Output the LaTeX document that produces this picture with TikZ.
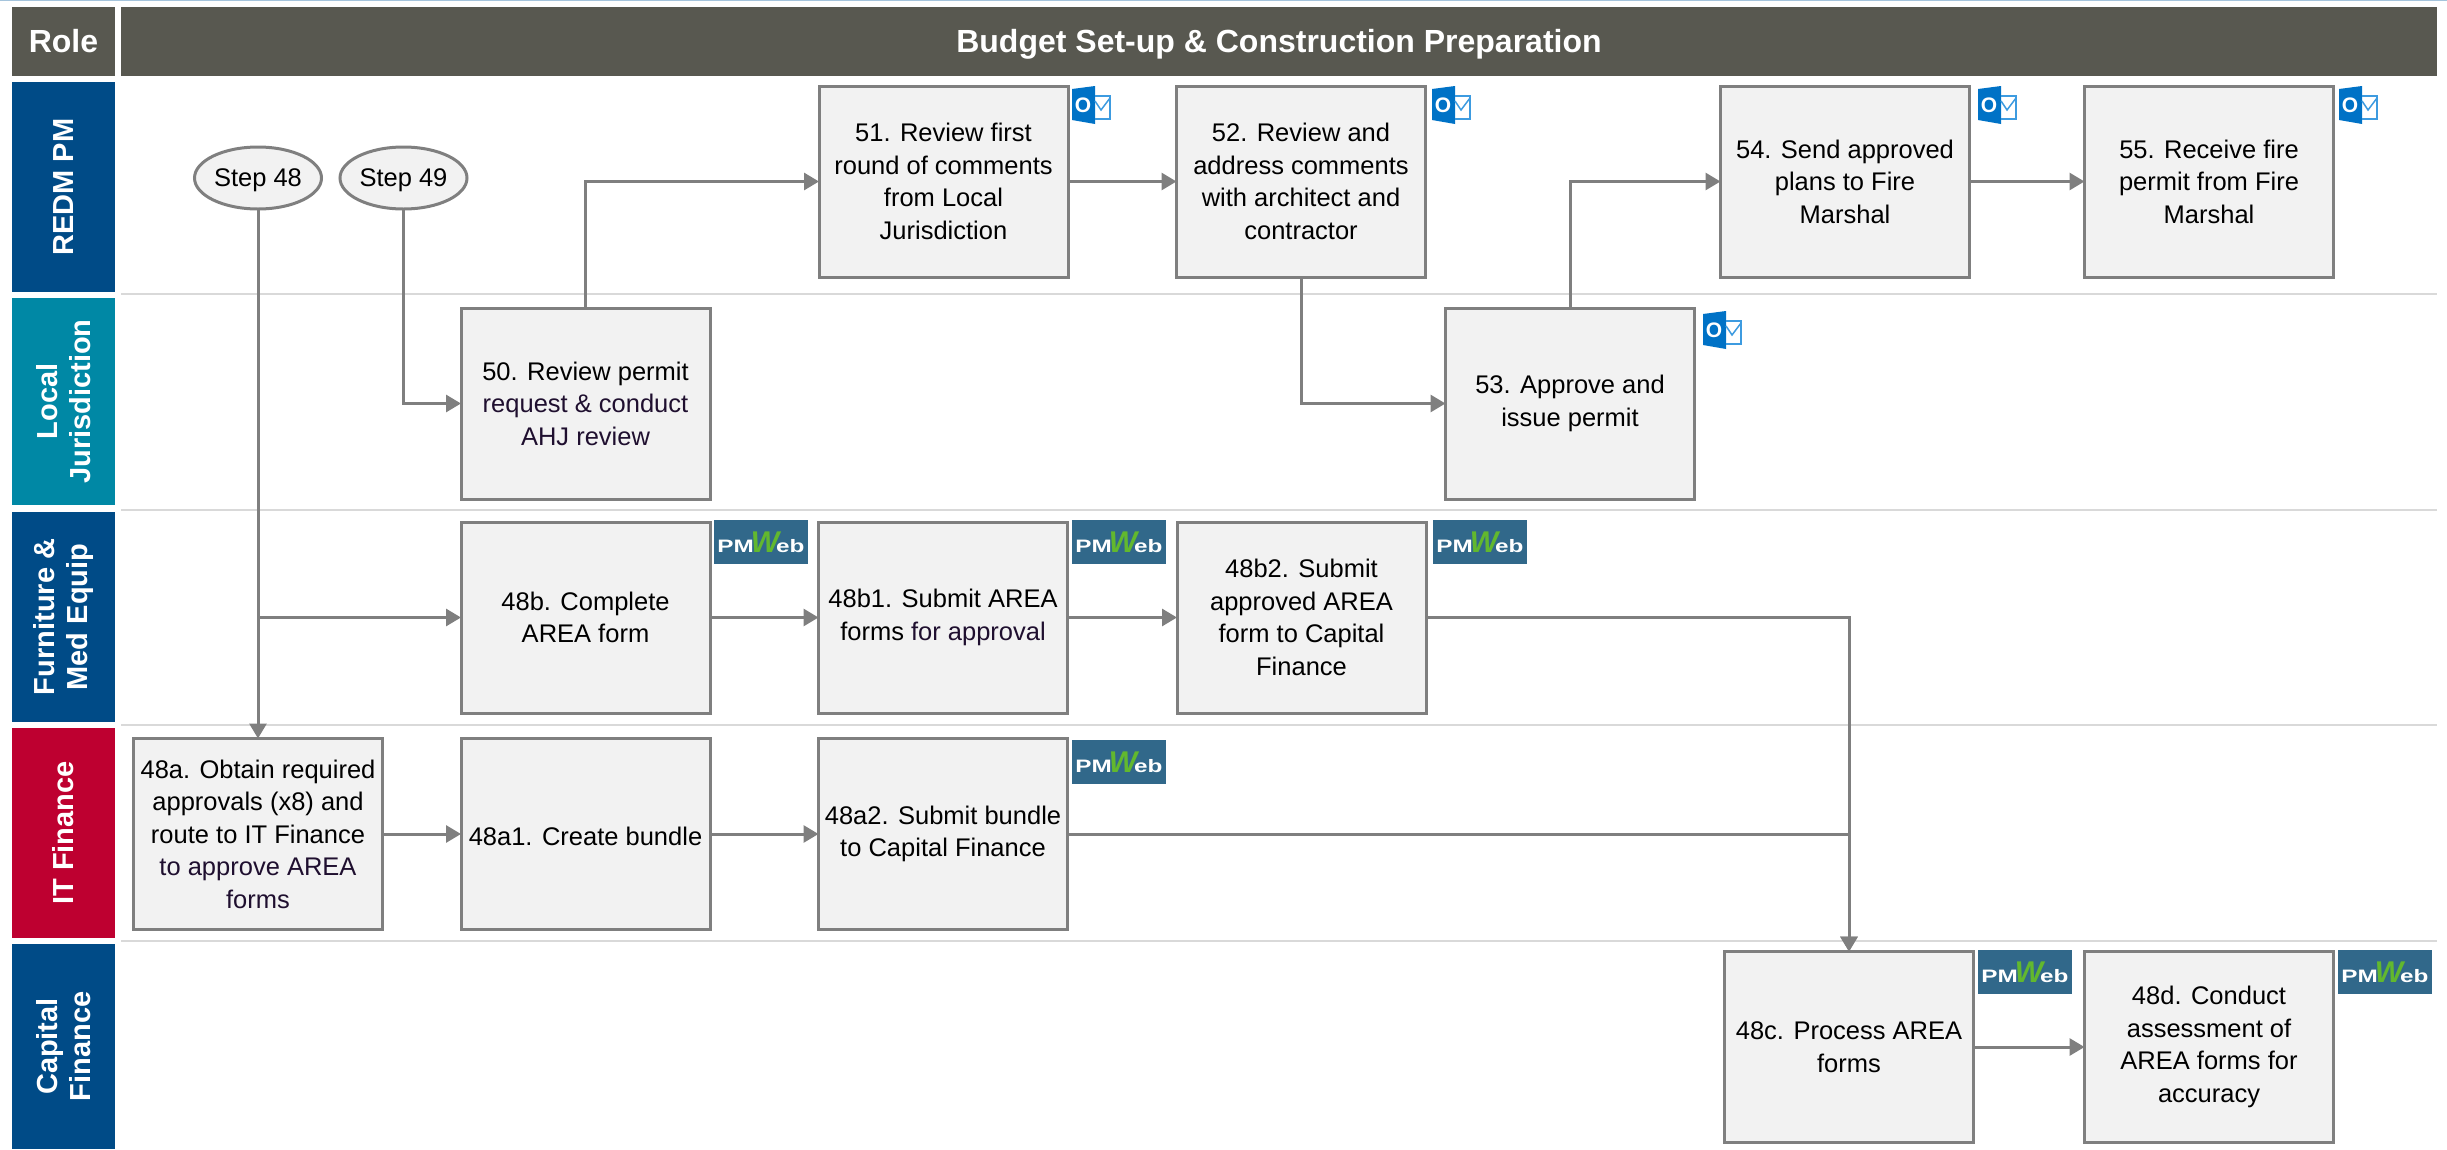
\documentclass[tikz,border=0pt]{standalone}
\usepackage{fontspec}
\setmainfont{Liberation Sans}
\newfontfamily\pmfont[FakeStretch=1.35]{Liberation Sans}
\usetikzlibrary{arrows.meta,shapes.geometric}
\definecolor{headgray}{HTML}{585850}
\definecolor{redmblue}{HTML}{004B87}
\definecolor{localteal}{HTML}{0088A5}
\definecolor{itred}{HTML}{BE0030}
\definecolor{boxgray}{HTML}{F2F2F2}
\definecolor{linegray}{HTML}{7F7F7F}
\definecolor{sepgray}{HTML}{D9D9D9}
\definecolor{topblue}{HTML}{A5C4DC}
\definecolor{pmblue}{HTML}{31688A}
\definecolor{pmgreen}{HTML}{62B82E}
\definecolor{olblue}{HTML}{0072C6}
\definecolor{ollight}{HTML}{3D9BE0}
\definecolor{darkink}{HTML}{1F0F2F}
\newcommand{\pmweb}{{\pmfont\bfseries PM}\kern-3pt{\color{pmgreen}\fontsize{30}{30}\selectfont\bfseries\itshape W}\kern-3pt{\pmfont\bfseries eb}}
\tikzset{
	stepbox/.style={draw=linegray, fill=boxgray, line width=3pt, minimum width=249pt, minimum height=191pt, inner sep=0pt, outer sep=0pt, align=center, font=\fontsize{25.5}{32.5}\selectfont, execute at begin node={\rule{0pt}{22.5pt}}},
	stepoval/.style={stepbox, ellipse, minimum width=127pt, minimum height=62pt},
	headbox/.style={fill=headgray, text=white, inner sep=0pt, outer sep=0pt, minimum height=69pt, text height=22pt, text depth=0pt, font=\bfseries\fontsize{32}{36}\selectfont},
	lanebox/.style={text=white, rotate=90, minimum height=103pt, inner sep=0pt, outer sep=0pt, align=center, font=\bfseries\fontsize{29}{33.5}\selectfont},
	pmbadge/.style={fill=pmblue, text=white, minimum width=94pt, minimum height=44pt, inner sep=0pt, outer sep=0pt, font=\fontsize{18}{18}\selectfont},
	flow/.style={draw=linegray, line width=3pt, -{Triangle[length=15pt,width=17pt]}},
	lanesep/.style={draw=sepgray, line width=2pt},
	outlookicon/.pic={
		\fill[olblue] (0,3)--(23,0)--(23,38)--(0,34)--cycle;
		\node (letter)[text=white, inner sep=0pt, font=\bfseries\fontsize{21}{21}\selectfont] at (11,19) {O};
		\draw[ollight, line width=1.5pt] (23,10)--(38,10)--(38,33)--(23,33);
		\draw[ollight, line width=1.5pt] (23,15)--(29,24)--(38,12);
	}
}
\begin{document}
\begin{tikzpicture}[x=1pt,y=-1pt]
		\useasboundingbox (0,0) rectangle (2447,1149);
		\draw[topblue, line width=2pt] (0,0)--(2447,0);
		\node (role)[headbox, minimum width=103pt] at (63.5,41.5) {Role};
		\node (title)[headbox, minimum width=2316pt] at (1279,41.5) {Budget Set-up \& Construction Preparation};
		\node (redm)[lanebox, fill=redmblue, minimum width=210pt] at (63.5,187) {REDM PM};
		\node (local)[lanebox, fill=localteal, minimum width=207pt] at (63.5,401.5) {Local\\Jurisdiction};
		\node (furn)[lanebox, fill=redmblue, minimum width=210pt] at (63.5,617) {Furniture \&\\Med Equip};
		\node (itfin)[lanebox, fill=itred, minimum width=210pt] at (63.5,833) {IT Finance};
		\node (capfin)[lanebox, fill=redmblue, minimum width=205pt] at (63.5,1046.5) {Capital\\Finance};
		\draw[lanesep] (121,294)--(2437,294);
		\draw[lanesep] (121,510)--(2437,510);
		\draw[lanesep] (121,725)--(2437,725);
		\draw[lanesep] (121,941)--(2437,941);
		\node (s48)[stepoval] at (258,178) {Step 48};
		\node (s49)[stepoval] at (403.5,178) {Step 49};
		\node (50)[stepbox] at (585.5,403.5) {50. Review permit\\\textcolor{darkink}{request \& conduct}\\\textcolor{darkink}{AHJ review}};
		\node (51)[stepbox] at (943.5,181.5) {51. Review first\\round of comments\\from Local\\Jurisdiction};
		\node (52)[stepbox] at (1301,181.5) {52. Review and\\address comments\\with architect and\\contractor};
		\node (53)[stepbox] at (1570,403.5) {53. Approve and\\issue permit};
		\node (54)[stepbox] at (1845,181.5) {54. Send approved\\plans to Fire\\Marshal};
		\node (55)[stepbox] at (2209,181.5) {55. Receive fire\\permit from Fire\\Marshal};
		\node (48b)[stepbox] at (585.5,617.5) {48b. Complete\\AREA form};
		\node (48b1)[stepbox] at (943,617.5) {48b1. Submit AREA\\forms \textcolor{darkink}{for approval}};
		\node (48b2)[stepbox] at (1301.5,617.5) {48b2. Submit\\approved AREA\\form to Capital\\Finance};
		\node (48a)[stepbox] at (258,834) {48a. Obtain required\\approvals (x8) and\\route to IT Finance\\\textcolor{darkink}{to approve AREA}\\\textcolor{darkink}{forms}};
		\node (48a1)[stepbox] at (585.5,834) {48a1. Create bundle};
		\node (48a2)[stepbox] at (943,834) {48a2. Submit bundle\\to Capital Finance};
		\node (48c)[stepbox] at (1849,1047) {48c. Process AREA\\forms};
		\node (48d)[stepbox] at (2209,1047) {48d. Conduct\\assessment of\\AREA forms for\\accuracy};
		\node (pm48b)[pmbadge] at (761,542) {\pmweb};
		\node (pm48b1)[pmbadge] at (1119,542) {\pmweb};
		\node (pm48b2)[pmbadge] at (1480,542) {\pmweb};
		\node (pm48a2)[pmbadge] at (1119,762) {\pmweb};
		\node (pm48c)[pmbadge] at (2025,972) {\pmweb};
		\node (pm48d)[pmbadge] at (2385,972) {\pmweb};
		\pic (ol51) at (1072,86) {outlookicon};
		\pic (ol52) at (1432,86) {outlookicon};
		\pic (ol53) at (1703,311) {outlookicon};
		\pic (ol54) at (1978,86) {outlookicon};
		\pic (ol55) at (2339,86) {outlookicon};
		\draw[flow] (s48.south)--(48a.north);
		\draw[flow] (s48.south) |- (48b.west);
		\draw[flow] (s49.south) |- (50.west);
		\draw[flow] (50.north) |- (51.west);
		\draw[flow] (51.east)--(52.west);
		\draw[flow] (52.south) |- (53.west);
		\draw[flow] (53.north) |- (54.west);
		\draw[flow] (54.east)--(55.west);
		\draw[flow] (48b.east)--(48b1.west);
		\draw[flow] (48b1.east)--(48b2.west);
		\draw[flow] (48b2.east) -| (48c.north);
		\draw[flow] (48a.east)--(48a1.west);
		\draw[flow] (48a1.east)--(48a2.west);
		\draw[flow] (48a2.east) -| (48c.north);
		\draw[flow] (48c.east)--(48d.west);
	\end{tikzpicture}
\end{document}
